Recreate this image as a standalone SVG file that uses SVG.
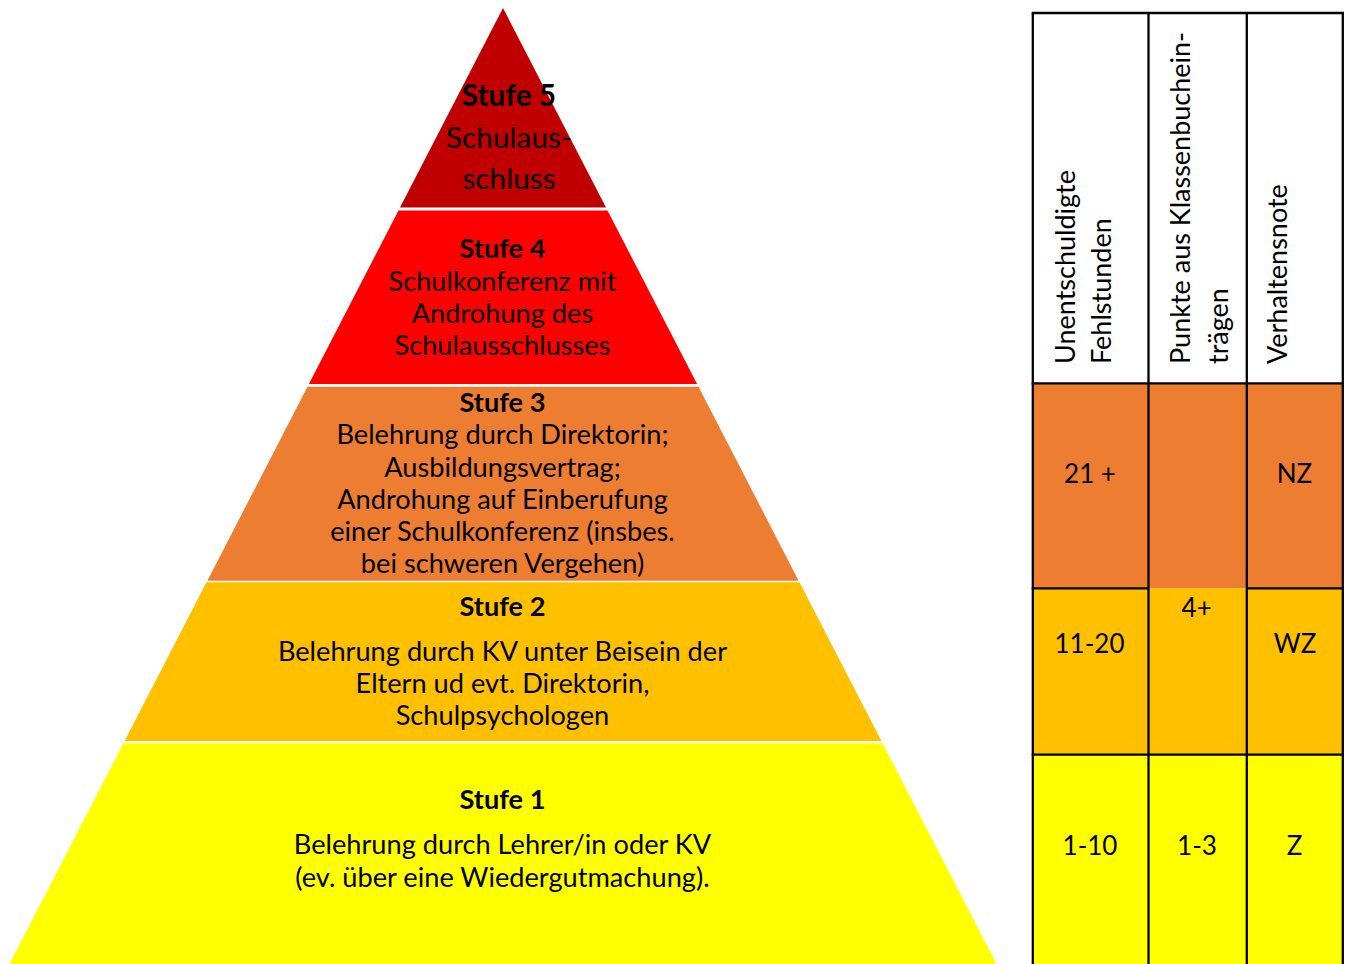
<svg xmlns="http://www.w3.org/2000/svg" width="1346" height="964" viewBox="0 0 1346 964">
<style>
text{font-family:Lato,"Liberation Sans",sans-serif;fill:#000;}
.t{font-size:27.2px;text-anchor:middle;}
.v{font-size:26px;text-anchor:middle;}
.b{font-weight:bold;}
.t5{font-size:29.8px;text-anchor:middle;}
.h{font-size:27px;}
.grid{stroke:#000;stroke-width:2.3;fill:none;}
</style>
<rect width="1346" height="964" fill="#fff"/>
<g id="stufe5">
<polygon points="503,8 400,207.5 606,207.5" fill="#C00000"/>
<text class="t5 b" x="509" y="106">Stufe 5</text>
<text class="t5" x="509" y="148">Schulaus-</text>
<text class="t5" x="509" y="189">schluss</text>
</g>
<g id="stufe4">
<polygon points="398.5,210.5 607.5,210.5 697.1,384 308.9,384" fill="#FF0000"/>
<text class="t b" x="502.5" y="258">Stufe 4</text>
<text class="t" x="502.5" y="290.5">Schulkonferenz mit</text>
<text class="t" x="502.5" y="322.8">Androhung des</text>
<text class="t" x="502.5" y="355">Schulausschlusses</text>
</g>
<g id="stufe3">
<polygon points="307.5,386.7 698.5,386.7 798.6,580.7 207.4,580.7" fill="#ED7D31"/>
<text class="t b" x="502.5" y="412">Stufe 3</text>
<text class="t" x="502.5" y="444.3">Belehrung durch Direktorin;</text>
<text class="t" x="502.5" y="476.6">Ausbildungsvertrag;</text>
<text class="t" x="502.5" y="508.9">Androhung auf Einberufung</text>
<text class="t" x="502.5" y="541.2">einer Schulkonferenz (insbes.</text>
<text class="t" x="502.5" y="573.4">bei schweren Vergehen)</text>
</g>
<g id="stufe2">
<polygon points="206.5,582.3 799.5,582.3 881.4,741 124.6,741" fill="#FFC000"/>
<text class="t b" x="502.5" y="616">Stufe 2</text>
<text class="t" x="502.5" y="660.5">Belehrung durch KV unter Beisein der</text>
<text class="t" x="502.5" y="692.8">Eltern ud evt. Direktorin,</text>
<text class="t" x="502.5" y="725">Schulpsychologen</text>
</g>
<g id="stufe1">
<polygon points="123.4,743.3 882.6,743.3 996.5,964 9.5,964" fill="#FFFF00"/>
<text class="t b" x="502.5" y="809">Stufe 1</text>
<text class="t" x="502.5" y="854">Belehrung durch Lehrer/in oder KV</text>
<text class="t" x="502.5" y="886.5">(ev. über eine Wiedergutmachung).</text>
</g>
<g id="table">
<rect x="1033" y="383.3" width="310" height="205" fill="#ED7D31"/>
<rect x="1033" y="588.3" width="310" height="166.4" fill="#FFC000"/>
<rect x="1148.5" y="383.3" width="98.3" height="203.5" fill="#ED7D31"/>
<rect x="1033" y="754.7" width="310" height="210" fill="#FFFF00"/>
<g class="grid">
<line x1="1032.8" y1="13" x2="1032.8" y2="964"/>
<line x1="1148.5" y1="13" x2="1148.5" y2="964"/>
<line x1="1246.8" y1="13" x2="1246.8" y2="964"/>
<line x1="1342.8" y1="13" x2="1342.8" y2="964"/>
<line x1="1031.7" y1="13" x2="1344" y2="13"/>
<line x1="1031.7" y1="383.3" x2="1344" y2="383.3"/>
<line x1="1031.7" y1="588.3" x2="1148.5" y2="588.3"/>
<line x1="1246.8" y1="588.3" x2="1344" y2="588.3"/>
<line x1="1031.7" y1="754.7" x2="1344" y2="754.7"/>
</g>
<text class="h" transform="translate(1075,364) rotate(-90)">Unentschuldigte</text>
<text class="h" transform="translate(1111,364) rotate(-90)">Fehlstunden</text>
<text class="h" transform="translate(1190,364) rotate(-90)">Punkte aus Klassenbuchein-</text>
<text class="h" transform="translate(1228,364) rotate(-90)">trägen</text>
<text class="h" transform="translate(1287,364) rotate(-90)">Verhaltensnote</text>
<text class="v" x="1090" y="483.3">21 +</text>
<text class="v" x="1294.5" y="483.3">NZ</text>
<text class="v" x="1089.5" y="652.7">11-20</text>
<text class="v" x="1196.7" y="617.3">4+</text>
<text class="v" x="1295" y="652.7">WZ</text>
<text class="v" x="1090" y="855">1-10</text>
<text class="v" x="1197" y="855">1-3</text>
<text class="v" x="1294.5" y="855">Z</text>
</g>
</svg>
